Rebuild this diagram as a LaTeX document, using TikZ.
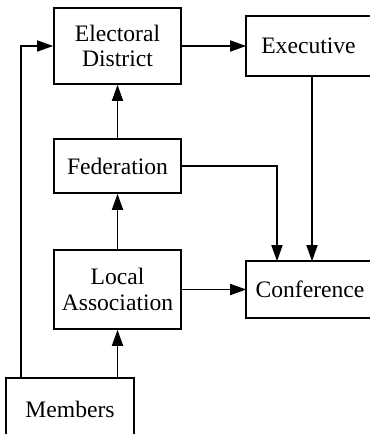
\documentclass[tikz,border=0pt]{standalone}
\usepackage{fontspec}
\setmainfont{Liberation Serif}
\usetikzlibrary{arrows.meta}
\begin{document}
\begin{tikzpicture}[x=0.5pt,y=-0.5pt,
    box/.style={draw, line width=0.8pt, inner sep=0pt, align=center,
                font=\fontsize{11.8}{12.8}\selectfont},
    openbox/.style={box, draw=none},
    edge/.style={line width=0.8pt},
    arr/.style={line width=0.8pt, -{Triangle[length=8pt,width=5.5pt]}}]
                        % pixel coordinates, y downwards; boxes on the right and bottom run off the page
                        \useasboundingbox (0,0) rectangle (370,434);

                        \node [box, minimum width=63.5pt, minimum height=38pt] (elec) at (117.5,46) {Electoral\\District};
                        \node [openbox, minimum width=70pt, minimum height=29pt] (exec) at (317,46) {\hspace*{-8.5pt}Executive};
                        \node [box, minimum width=63.5pt, minimum height=27pt] (fed) at (117.5,166) {Federation};
                        \node [box, minimum width=63.5pt, minimum height=39.5pt] (local) at (117.5,289.5) {Local\\Association};
                        \node [openbox, minimum width=70pt, minimum height=27.5pt] (conf) at (317,289.5) {\hspace*{-7pt}Conference};
                        \node [openbox, minimum width=63pt, minimum height=30pt] (mem) at (70,409) {Members};
                        \draw [edge] (370,0 |- exec.north) -| (exec.south west) -- (370,0 |- exec.south);
                        \draw [edge] (370,0 |- conf.north) -| (conf.south west) -- (370,0 |- conf.south);
                        \draw [edge] (mem.north west |- 0,434) |- (mem.north east) -- (mem.north east |- 0,434);

                        \draw [arr] (elec.east) -- (exec.west);
                        \draw [arr] (fed.north) -- (elec.south);
                        \draw [arr] (local.north) -- (fed.south);
                        \draw [arr] (local.east) -- (local.east -| conf.west);
                        \draw [arr] (local |- mem.north) -- (local.south);
                        \draw [arr] ([xshift=7.5pt]mem.north west) |- (elec.west);
                        \draw [arr] (fed.east) -| ([xshift=-20pt]conf.north);
                        \draw [arr] ([xshift=-2.5pt]exec.south) -- ([xshift=-2.5pt]conf.north);
                    \end{tikzpicture}
\end{document}
